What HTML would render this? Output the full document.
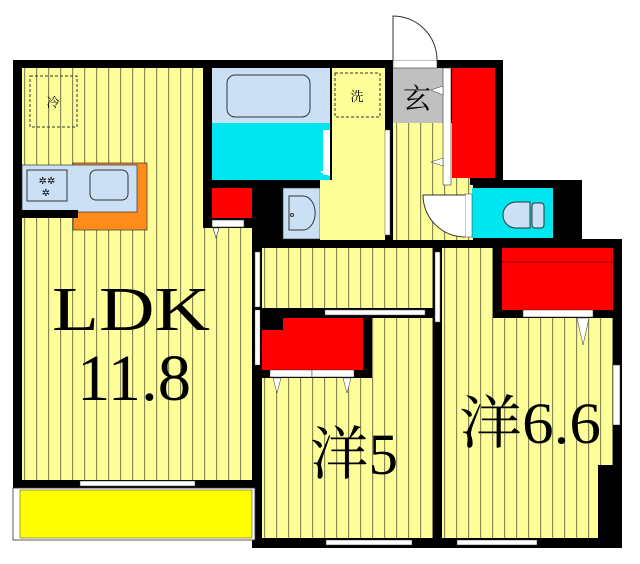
<!DOCTYPE html>
<html><head><meta charset="utf-8"><style>html,body{margin:0;padding:0;background:#fff}svg{display:block}</style></head>
<body>
<svg width="640" height="564" viewBox="0 0 640 564" xmlns="http://www.w3.org/2000/svg">
<defs>
<pattern id="st" width="12" height="10" patternUnits="userSpaceOnUse">
<rect width="12" height="10" fill="#ffff99"/><rect x="0" y="0" width="1.2" height="10" fill="#8a8a55"/>
</pattern>
</defs>
<rect x="13" y="60" width="200" height="428" fill="#000"/>
<rect x="203" y="60" width="300" height="188" fill="#000"/>
<rect x="500" y="180" width="82" height="68" fill="#000"/>
<rect x="252" y="239" width="370" height="309" fill="#000"/>
<rect x="13" y="478" width="247" height="10" fill="#000"/>
<!-- LDK -->
<rect x="22" y="68" width="181" height="412" fill="url(#st)"/>
<rect x="203" y="228" width="49" height="252" fill="url(#st)"/>
<rect x="30" y="76" width="47" height="51" fill="none" stroke="#333" stroke-dasharray="3,2"/>
<text x="53" y="107" font-size="13" text-anchor="middle" font-family="Liberation Serif,'Noto Serif CJK SC',serif">冷</text>
<rect x="73" y="163" width="74" height="67" fill="#ff8c1a" stroke="#333" stroke-width=".7"/>
<rect x="22" y="165" width="115" height="47" fill="#cce0f5" stroke="#333" stroke-width=".7"/>
<rect x="27" y="170" width="40" height="31" fill="none" stroke="#333"/>
<text x="47" y="184" font-size="10" text-anchor="middle" font-family="DejaVu Sans,sans-serif">✲✲</text>
<text x="46" y="196" font-size="10" text-anchor="middle" font-family="DejaVu Sans,sans-serif">✲</text>
<rect x="90" y="170" width="38" height="30" rx="6" fill="#cce0f5" stroke="#333"/>
<rect x="22" y="210" width="56" height="8" fill="#000"/>
<!-- bath -->
<rect x="212" y="68" width="118" height="55" fill="#cce0f5"/>
<rect x="227" y="75" width="83" height="42" rx="8" fill="#cce0f5" stroke="#333"/>
<rect x="212" y="123" width="118" height="57" fill="#00e6f0"/>
<polygon points="330,168 320,172 330,176" fill="#fff"/>
<rect x="323" y="130" width="7" height="45" fill="#fff"/>
<rect x="212" y="188" width="40" height="30" fill="#ff0000"/>
<rect x="212" y="220" width="32" height="7" fill="#fff" stroke="#333" stroke-width=".6"/>
<polygon points="213,228 219,228 216,238" fill="#fff" stroke="#333" stroke-width=".6"/>
<rect x="283" y="188" width="37" height="51" fill="#cce0f5" stroke="#333" stroke-width=".6"/>
<path d="M289,196 h14 a10,14 0 0 1 0,34 h-14 z" fill="#cce0f5" stroke="#333"/>
<circle cx="292" cy="215" r="1.5" fill="none" stroke="#333"/>
<!-- wash room -->
<rect x="332" y="68" width="53" height="172" fill="#ffff99"/>
<rect x="320" y="180" width="65" height="60" fill="#ffff99"/>
<rect x="335" y="73" width="45" height="44" fill="none" stroke="#333" stroke-dasharray="3,2"/>
<text x="357" y="101" font-size="13" text-anchor="middle" font-family="Liberation Serif,'Noto Serif CJK SC',serif">洗</text>
<rect x="385" y="130" width="5" height="105" fill="#fff" stroke="#555" stroke-width=".5"/>
<!-- entrance -->
<rect x="393" y="68" width="50" height="55" fill="#c0c0c0"/>
<text x="417" y="108" font-size="28" text-anchor="middle" font-family="Liberation Serif,'Noto Serif CJK SC',serif">玄</text>
<rect x="393" y="60" width="44" height="8" fill="#fff" stroke="#333" stroke-width=".6"/>
<path d="M393,60 V16 A44,44 0 0 1 437,60" fill="#fff" stroke="#333"/>
<rect x="393" y="123" width="77" height="117" fill="url(#st)"/>
<rect x="443" y="185" width="30" height="55" fill="url(#st)"/>
<rect x="443" y="68" width="8" height="117" fill="#fff" stroke="#333" stroke-width=".6"/>
<polygon points="443,86 431,90 443,95" fill="#fff" stroke="#333" stroke-width=".5"/>
<polygon points="443,158 431,162 443,166" fill="#fff" stroke="#333" stroke-width=".5"/>
<rect x="452" y="68" width="43" height="110" fill="#ff0000"/>
<!-- toilet -->
<rect x="472" y="188" width="81" height="50" fill="#00e6f0"/>
<rect x="465" y="194" width="7" height="43" fill="#fff" stroke="#333" stroke-width=".5"/>
<path d="M465,195 H423 A42,42 0 0 0 465,237" fill="#fff" stroke="#333"/>
<path d="M530,202 h-14 a12,12 0 0 0 0,26 h14 z" fill="#cce0f5" stroke="#333"/>
<rect x="532" y="203" width="12" height="25" rx="3" fill="#cce0f5" stroke="#333"/>
<!-- corridor -->
<rect x="262" y="248" width="171" height="60" fill="url(#st)"/>
<rect x="255" y="252" width="5" height="55" fill="#fff" stroke="#555" stroke-width=".5"/>
<rect x="255" y="310" width="5" height="55" fill="#fff" stroke="#555" stroke-dasharray="2,1" stroke-width=".5"/>
<rect x="325" y="310" width="100" height="5" fill="#fff" stroke="#555" stroke-width=".5"/>
<rect x="435" y="252" width="5" height="70" fill="#fff" stroke="#555" stroke-width=".5"/>
<!-- room 5 -->
<rect x="262" y="318" width="171" height="220" fill="url(#st)"/>
<rect x="262" y="318" width="110" height="60" fill="#000"/>
<rect x="283" y="318" width="80" height="52" fill="#ff0000"/>
<rect x="262" y="330" width="101" height="40" fill="#ff0000"/>
<rect x="270" y="370" width="42" height="7" fill="#fff" stroke="#333" stroke-width=".5"/>
<rect x="312" y="370" width="42" height="7" fill="#fff" stroke="#333" stroke-width=".5"/>
<polygon points="273,378 281,378 277,393" fill="#fff" stroke="#333" stroke-width=".5"/>
<polygon points="343,378 351,378 347,393" fill="#fff" stroke="#333" stroke-width=".5"/>
<text x="310" y="474" font-size="58" font-family="Liberation Serif,'Noto Serif CJK SC',serif" textLength="88" lengthAdjust="spacingAndGlyphs">洋5</text>
<rect x="326" y="540" width="86" height="5" fill="#fff" stroke="#333" stroke-width=".5"/>
<!-- room 6.6 -->
<rect x="442" y="248" width="171" height="290" fill="url(#st)"/>
<rect x="493" y="248" width="129" height="70" fill="#000"/>
<rect x="502" y="248" width="111" height="62" fill="#ff0000"/>
<line x1="502" y1="262" x2="613" y2="262" stroke="#600" stroke-width=".7"/>
<rect x="523" y="310" width="70" height="7" fill="#fff" stroke="#333" stroke-width=".5"/>
<polygon points="577,318 589,318 583,345" fill="#fff" stroke="#333" stroke-width=".5"/>
<rect x="613" y="365" width="7" height="60" fill="#fff" stroke="#333" stroke-width=".5"/>
<rect x="598" y="465" width="24" height="83" fill="#000"/>
<text x="459" y="443" font-size="58" font-family="Liberation Serif,'Noto Serif CJK SC',serif" textLength="142" lengthAdjust="spacingAndGlyphs">洋6.6</text>
<rect x="457" y="540" width="80" height="5" fill="#fff" stroke="#333" stroke-width=".5"/>
<text x="52" y="330" font-size="62" font-family="Liberation Serif,serif" textLength="158" lengthAdjust="spacingAndGlyphs">LDK</text>
<text x="77" y="400" font-size="66" font-family="Liberation Serif,serif" textLength="114" lengthAdjust="spacingAndGlyphs">11.8</text>
<rect x="80" y="481" width="115" height="5" fill="#fff" stroke="#333" stroke-width=".5"/>
<rect x="13" y="488" width="242" height="52" fill="#fff" stroke="#333" stroke-width=".8"/>
<rect x="20" y="490" width="232" height="48" fill="#ffff00" stroke="#333" stroke-width=".5"/>
</svg>
</body></html>
